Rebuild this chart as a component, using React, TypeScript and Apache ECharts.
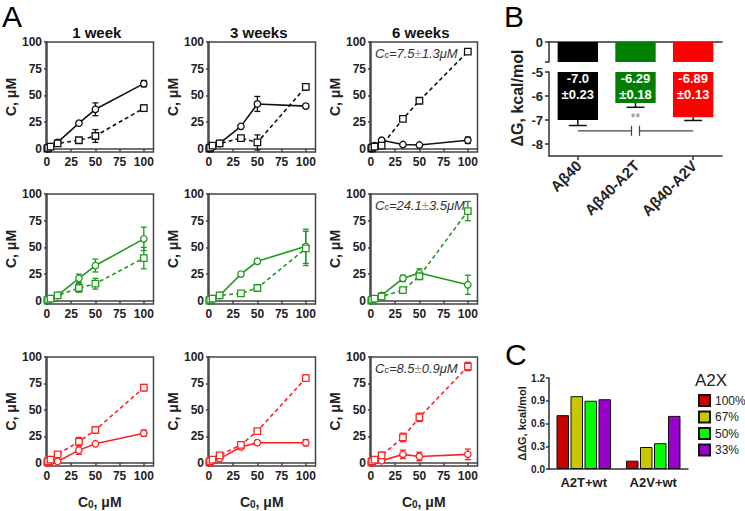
import React, { useEffect, useRef } from 'react';
import * as echarts from 'echarts';

const FONT = '"Liberation Sans", Arial, Helvetica, sans-serif';

// ---------- Panel A data ----------
const C0 = [0.4, 1.2, 3.7, 11, 33, 50, 100];
const weekTitles = ['1 week', '3 weeks', '6 weeks'];
const rowColors = ['#111111', '#1f9a1f', '#ff2222'];
const ticksA = [0, 25, 50, 75, 100];

// Aβ40 (black)
const black1wCircle = [0.3, 0.8, 2, 6, 24, 37, 61];
const black1wCircleErr = [0, 0, 0, 1, 1, 6, 3];
const black1wSquare = [0.3, 0.8, 2, 5, 8, 12, 38];
const black1wSquareErr = [0, 0, 0, 1, 1, 6, 3];
const black3wCircle = [0.3, 1, 2, 5, 21, 42, 40];
const black3wCircleErr = [0, 0, 0, 1, 1, 7, 2];
const black3wSquare = [0.3, 1, 3, 5, 10, 6, 58];
const black3wSquareErr = [0, 0, 0, 1, 1, 7, 3];
const black6wCircle = [0.3, 1, 3, 8, 4, 3.5, 8];
const black6wCircleErr = [0, 0, 0, 1, 1, 1, 3];
const black6wSquare = [0.3, 1, 2, 3, 28, 45, 91];
const black6wSquareErr = [0, 0, 0, 1, 1, 1, 2];

// Aβ40-A2T (green)
const green1wCircle = [0.3, 1, 2, 5, 21, 33, 58];
const green1wCircleErr = [0, 0, 0, 1, 4, 6, 11];
const green1wSquare = [0.3, 1, 2, 5, 12, 16, 40];
const green1wSquareErr = [0, 0, 0, 1, 4, 5, 10];
const green3wCircle = [0.3, 1, 2, 5, 25, 37, 51];
const green3wCircleErr = [0, 0, 0, 1, 2, 2, 16];
const green3wSquare = [0.3, 1, 2, 5, 7, 12, 49];
const green3wSquareErr = [0, 0, 0, 1, 1, 2, 16];
const green6wCircle = [0.3, 1, 2, 5, 21, 26, 15];
const green6wCircleErr = [0, 0, 0, 1, 3, 4, 9];
const green6wSquare = [0.3, 1, 2, 4, 10, 23, 84];
const green6wSquareErr = [0, 0, 0, 1, 2, 3, 9];

// Aβ40-A2V (red)
const red1wCircle = [0.2, 0.5, 0.8, 1.3, 12, 18, 28];
const red1wCircleErr = [0, 0, 0, 0, 4, 1, 3];
const red1wSquare = [0.5, 1.5, 3, 8, 20, 31, 71];
const red1wSquareErr = [0, 0, 0, 1, 4, 1, 3];
const red3wCircle = [0.3, 1, 2, 4, 15, 19, 19];
const red3wCircleErr = [0, 0, 0, 1, 2, 1, 3];
const red3wSquare = [0.5, 1.5, 3, 7, 17, 30, 80];
const red3wSquareErr = [0, 0, 0, 1, 3, 1, 3];
const red6wCircle = [0.3, 1, 2, 2, 8, 6, 8];
const red6wCircleErr = [0, 0, 0, 1, 4, 4, 5];
const red6wSquare = [0.5, 1.5, 3, 7, 24, 43, 91];
const red6wSquareErr = [0, 0, 0, 3, 4, 4, 4];

const ccMean = ['7.5', '24.1', '8.5'];
const ccErr = ['1.3', '3.5', '0.9'];

// ---------- Panel B data ----------
const bCategories = ['Aβ40', 'Aβ40-A2T', 'Aβ40-A2V'];
const dG = [-7.0, -6.29, -6.89];
const dGErr = [0.23, 0.18, 0.13];
const dGLabels = ['-7.0', '-6.29', '-6.89'];
const dGErrLabels = ['±0.23', '±0.18', '±0.13'];
const bColors = ['#000000', '#008000', '#ff0000'];
const sigLevel = -7.45;
const sigText = '**';

// ---------- Panel C data ----------
const cGroups = ['A2T+wt', 'A2V+wt'];
const cLegend = ['100%', '67%', '50%', '33%'];
const dd100 = [0.71, 0.11];
const dd67 = [0.96, 0.29];
const dd50 = [0.9, 0.34];
const dd33 = [0.92, 0.7];
const cColors = ['#c80000', '#c8c800', '#00ff00', '#9900cc'];

const panels = [
  { row: 0, col: 0, circ: black1wCircle, circErr: black1wCircleErr, sq: black1wSquare, sqErr: black1wSquareErr },
  { row: 0, col: 1, circ: black3wCircle, circErr: black3wCircleErr, sq: black3wSquare, sqErr: black3wSquareErr },
  { row: 0, col: 2, circ: black6wCircle, circErr: black6wCircleErr, sq: black6wSquare, sqErr: black6wSquareErr },
  { row: 1, col: 0, circ: green1wCircle, circErr: green1wCircleErr, sq: green1wSquare, sqErr: green1wSquareErr },
  { row: 1, col: 1, circ: green3wCircle, circErr: green3wCircleErr, sq: green3wSquare, sqErr: green3wSquareErr },
  { row: 1, col: 2, circ: green6wCircle, circErr: green6wCircleErr, sq: green6wSquare, sqErr: green6wSquareErr },
  { row: 2, col: 0, circ: red1wCircle, circErr: red1wCircleErr, sq: red1wSquare, sqErr: red1wSquareErr },
  { row: 2, col: 1, circ: red3wCircle, circErr: red3wCircleErr, sq: red3wSquare, sqErr: red3wSquareErr },
  { row: 2, col: 2, circ: red6wCircle, circErr: red6wCircleErr, sq: red6wSquare, sqErr: red6wSquareErr },
];

const colLeft = [46, 208, 370];
const rowTop = [42, 194, 357];
const rowH = [110, 110, 109];
const plotW = 107.5;

const makeErr = (color: string, cap: number) => (_p: any, api: any) => {
  const x = api.value(0);
  const y = api.value(1);
  const e = api.value(2);
  if (!e) return { type: 'group', children: [] };
  const a = api.coord([x, y + e]);
  const b = api.coord([x, y - e]);
  const st = { stroke: color, lineWidth: 1.3 };
  return {
    type: 'group',
    children: [
      { type: 'line', shape: { x1: a[0], y1: a[1], x2: b[0], y2: b[1] }, style: st },
      { type: 'line', shape: { x1: a[0] - cap, y1: a[1], x2: a[0] + cap, y2: a[1] }, style: st },
      { type: 'line', shape: { x1: b[0] - cap, y1: b[1], x2: b[0] + cap, y2: b[1] }, style: st },
    ],
  };
};

function buildOption(): any {
  const grid: any[] = [];
  const xAxis: any[] = [];
  const yAxis: any[] = [];
  const series: any[] = [];
  const graphic: any[] = [];
  const axisColor = '#444';
  const labelStyle = { fontSize: 12, fontWeight: 'bold', color: '#222', fontFamily: FONT };

  panels.forEach((p, idx) => {
    const color = rowColors[p.row];
    grid.push({
      left: colLeft[p.col], top: rowTop[p.row], width: plotW, height: rowH[p.row],
      show: true, borderColor: axisColor, borderWidth: 1.5, backgroundColor: 'transparent',
    });
    xAxis.push({
      type: 'value', gridIndex: idx, min: -1, max: 110,
      axisLine: { show: true, lineStyle: { color: axisColor, width: 1.5 } },
      splitLine: { show: false },
      axisTick: { show: true, length: 3, customValues: ticksA, lineStyle: { color: axisColor, width: 1.5 } },
      axisLabel: { ...labelStyle, margin: 4, customValues: ticksA },
    });
    yAxis.push({
      type: 'value', gridIndex: idx, min: -3, max: 100,
      axisLine: { show: true, lineStyle: { color: axisColor, width: 1.5 } },
      splitLine: { show: false },
      axisTick: { show: true, length: 3, customValues: ticksA, lineStyle: { color: axisColor, width: 1.5 } },
      axisLabel: { ...labelStyle, margin: 4, customValues: ticksA },
      name: 'C, μM', nameLocation: 'middle', nameGap: 25,
      nameTextStyle: { fontSize: 14, fontWeight: 'bold', color: '#222', fontFamily: FONT },
    });
    series.push({
      type: 'line', xAxisIndex: idx, yAxisIndex: idx, color,
      data: C0.map((x, k) => [x, p.circ[k]]),
      symbol: 'circle', symbolSize: 6.5, showSymbol: true, silent: true,
      lineStyle: { color, width: 1.6, type: 'solid' },
      itemStyle: { color: '#fff', borderColor: color, borderWidth: 1.3 },
      z: 4,
    });
    series.push({
      type: 'line', xAxisIndex: idx, yAxisIndex: idx, color,
      data: C0.map((x, k) => [x, p.sq[k]]),
      symbol: 'rect', symbolSize: 6.5, showSymbol: true, silent: true,
      lineStyle: { color, width: 1.6, type: [4, 3] },
      itemStyle: { color: '#fff', borderColor: color, borderWidth: 1.3 },
      z: 4,
    });
    series.push({
      type: 'custom', xAxisIndex: idx, yAxisIndex: idx, silent: true,
      encode: { x: 0, y: 1 },
      data: C0.map((x, k) => [x, p.circ[k], p.circErr[k]]),
      renderItem: makeErr(color, 3), z: 3,
    });
    series.push({
      type: 'custom', xAxisIndex: idx, yAxisIndex: idx, silent: true,
      encode: { x: 0, y: 1 },
      data: C0.map((x, k) => [x, p.sq[k], p.sqErr[k]]),
      renderItem: makeErr(color, 3), z: 3,
    });
  });

  weekTitles.forEach((t, c) => {
    graphic.push({
      type: 'text', x: colLeft[c] + plotW / 2 - 3, y: 32,
      style: { text: t, align: 'center', verticalAlign: 'middle', fontSize: 15, fontWeight: 'bold', fill: '#111', fontFamily: FONT },
    });
    graphic.push({
      type: 'text', x: colLeft[c] + plotW / 2, y: 502,
      style: {
        text: '{b|C}{s|0}{b|, μM}', align: 'center', verticalAlign: 'middle', fontFamily: FONT,
        rich: {
          b: { fontSize: 14, fontWeight: 'bold', fill: '#222', fontFamily: FONT },
          s: { fontSize: 10, fontWeight: 'bold', fill: '#222', fontFamily: FONT, verticalAlign: 'bottom', lineHeight: 5 },
        },
      },
    });
  });
  [0, 1, 2].forEach((r) => {
    graphic.push({
      type: 'text', x: colLeft[2] + 5, y: rowTop[r] + 11,
      style: {
        text: `{i|C}{s|c}{i|=${ccMean[r]}}{g|±}{i|${ccErr[r]}μM}`, align: 'left', verticalAlign: 'middle', fontFamily: FONT,
        rich: {
          i: { fontSize: 13, fontStyle: 'italic', fill: '#333', fontFamily: FONT },
          s: { fontSize: 9, fontStyle: 'italic', fill: '#333', fontFamily: FONT, verticalAlign: 'bottom', lineHeight: 5 },
          g: { fontSize: 13, fontStyle: 'italic', fill: '#999', fontFamily: FONT },
        },
      },
    });
  });

  // ---------- Panel B ----------
  const gTop = grid.length;
  grid.push({ left: 549, top: 42, width: 173, height: 20 });
  xAxis.push({
    type: 'category', gridIndex: gTop, data: bCategories, position: 'top',
    axisLine: { show: true, lineStyle: { color: '#333', width: 1.5 } },
    axisTick: { show: false }, axisLabel: { show: false },
  });
  yAxis.push({
    type: 'value', gridIndex: gTop, min: -0.85, max: 0,
    axisLine: { show: true, lineStyle: { color: '#333', width: 1.5 } },
    splitLine: { show: false },
    axisTick: { show: true, length: 4, customValues: [0, -0.85], lineStyle: { color: '#333', width: 1.5 } },
    axisLabel: { fontSize: 13, fontWeight: 'bold', color: '#222', fontFamily: FONT, margin: 6, customValues: [0] },
  });
  const gBot = grid.length;
  grid.push({ left: 549, top: 72, width: 173, height: 84 });
  xAxis.push({
    type: 'category', gridIndex: gBot, data: bCategories, position: 'bottom',
    axisLine: { show: true, lineStyle: { color: '#333', width: 1.5 } },
    axisTick: { show: true, alignWithLabel: true, length: 4, lineStyle: { color: '#333', width: 1.5 } },
    axisLabel: { show: false },
  });
  yAxis.push({
    type: 'value', gridIndex: gBot, min: -8.5, max: -5,
    axisLine: { show: true, lineStyle: { color: '#333', width: 1.5 } },
    splitLine: { show: false },
    axisTick: { show: true, length: 4, customValues: [-5, -6, -7, -8], lineStyle: { color: '#333', width: 1.5 } },
    axisLabel: { fontSize: 13, fontWeight: 'bold', color: '#222', fontFamily: FONT, margin: 6, customValues: [-5, -6, -7, -8] },
  });
  const barRender = (_p: any, api: any) => {
    const i = api.value(0);
    const v = api.value(1);
    const p0 = api.coord([i, 0]);
    const p1 = api.coord([i, v]);
    const w = api.size([1, 0])[0] * 0.7;
    return { type: 'rect', shape: { x: p0[0] - w / 2, y: p0[1], width: w, height: p1[1] - p0[1] }, style: { fill: bColors[i] } };
  };
  const bData = dG.map((v, i) => [i, v, dGErr[i]]);
  [gTop, gBot].forEach((g) => {
    series.push({ type: 'custom', xAxisIndex: g, yAxisIndex: g, clip: true, silent: true, encode: { x: 0, y: 1 }, data: bData, renderItem: barRender, z: 2 });
  });
  series.push({
    type: 'custom', xAxisIndex: gBot, yAxisIndex: gBot, silent: true, encode: { x: 0, y: 1 }, data: bData, z: 3,
    renderItem: (_p: any, api: any) => {
      const i = api.value(0);
      const v = api.value(1);
      const e = api.value(2);
      const a = api.coord([i, v]);
      const b = api.coord([i, v - e]);
      const top = api.coord([i, -5]);
      const base = api.coord([i, -8.5]);
      const st = { stroke: '#111', lineWidth: 1.5 };
      return {
        type: 'group',
        children: [
          { type: 'line', shape: { x1: a[0], y1: a[1], x2: b[0], y2: b[1] }, style: st },
          { type: 'line', shape: { x1: b[0] - 9, y1: b[1], x2: b[0] + 9, y2: b[1] }, style: st },
          {
            type: 'text', x: top[0], y: top[1] - 2,
            style: { text: dGLabels[i] + '\n' + dGErrLabels[i], align: 'center', verticalAlign: 'top', lineHeight: 16, fontSize: 13, fontWeight: 'bold', fill: '#fff', fontFamily: FONT },
          },
          {
            type: 'text', x: base[0] + 1, y: base[1] + 7, rotation: Math.PI / 4,
            style: { text: bCategories[i], align: 'right', verticalAlign: 'middle', fontSize: 15, fontWeight: 'bold', fill: '#222', fontFamily: FONT },
          },
        ],
      };
    },
  });
  series.push({
    type: 'custom', xAxisIndex: gBot, yAxisIndex: gBot, silent: true, encode: { x: 0, y: 2 },
    data: [[0, 2, sigLevel]], z: 3,
    renderItem: (_p: any, api: any) => {
      const y = api.value(2);
      const a = api.coord([api.value(0), y]);
      const b = api.coord([api.value(1), y]);
      const mid = (a[0] + b[0]) / 2;
      const txt = api.coord([1, y + 0.55]);
      const st = { stroke: '#444', lineWidth: 1.2 };
      return {
        type: 'group',
        children: [
          { type: 'line', shape: { x1: a[0], y1: a[1], x2: mid - 4, y2: a[1] }, style: st },
          { type: 'line', shape: { x1: mid + 4, y1: a[1], x2: b[0], y2: a[1] }, style: st },
          { type: 'line', shape: { x1: mid - 4, y1: a[1] - 5, x2: mid - 4, y2: a[1] + 5 }, style: st },
          { type: 'line', shape: { x1: mid + 4, y1: a[1] - 5, x2: mid + 4, y2: a[1] + 5 }, style: st },
          { type: 'text', x: txt[0], y: txt[1], style: { text: sigText, align: 'center', verticalAlign: 'middle', fontSize: 12, fill: '#777', fontFamily: FONT } },
        ],
      };
    },
  });
  graphic.push({
    type: 'text', x: 517, y: 98, rotation: Math.PI / 2,
    style: { text: 'ΔG, kcal/mol', align: 'center', verticalAlign: 'middle', fontSize: 16, fontWeight: 'bold', fill: '#222', fontFamily: FONT },
  });

  // ---------- Panel C ----------
  const gC = grid.length;
  grid.push({ left: 549, top: 378, width: 139, height: 91 });
  xAxis.push({
    type: 'category', gridIndex: gC, data: cGroups,
    axisLine: { show: true, lineStyle: { color: '#333', width: 1.5 } },
    axisTick: { show: false },
    axisLabel: { fontSize: 13, fontWeight: 'bold', color: '#222', fontFamily: FONT, margin: 7 },
  });
  yAxis.push({
    type: 'value', gridIndex: gC, min: 0, max: 1.2, interval: 0.3,
    axisLine: { show: true, lineStyle: { color: '#333', width: 1.5 } },
    splitLine: { show: false },
    axisTick: { show: true, length: 3, lineStyle: { color: '#333', width: 1.5 } },
    axisLabel: { fontSize: 10, fontWeight: 'bold', color: '#222', fontFamily: FONT, margin: 4, formatter: (v: number) => v.toFixed(1) },
    name: 'ΔΔG, kcal/mol', nameLocation: 'middle', nameGap: 21,
    nameTextStyle: { fontSize: 11, fontWeight: 'bold', color: '#222', fontFamily: FONT },
  });
  [dd100, dd67, dd50, dd33].forEach((vals, k) => {
    series.push({
      type: 'bar', name: cLegend[k], xAxisIndex: gC, yAxisIndex: gC, data: vals, silent: true,
      barWidth: 12.5, barGap: '12%',
      itemStyle: { color: cColors[k], borderColor: '#111', borderWidth: 1 },
    });
  });
  graphic.push({
    type: 'text', x: 695, y: 380,
    style: { text: 'A2X', align: 'left', verticalAlign: 'middle', fontSize: 17, fill: '#222', fontFamily: FONT },
  });

  graphic.push({ type: 'text', x: 2, y: 16, style: { text: 'A', verticalAlign: 'middle', fontSize: 30, fill: '#000', fontFamily: FONT } });
  graphic.push({ type: 'text', x: 504, y: 16, style: { text: 'B', verticalAlign: 'middle', fontSize: 30, fill: '#000', fontFamily: FONT } });
  graphic.push({ type: 'text', x: 505, y: 354, style: { text: 'C', verticalAlign: 'middle', fontSize: 30, fill: '#000', fontFamily: FONT } });

  return {
    animation: false,
    backgroundColor: '#ffffff',
    textStyle: { fontFamily: FONT },
    grid, xAxis, yAxis, series, graphic,
    legend: {
      data: cLegend, orient: 'vertical', left: 693, top: 389,
      itemWidth: 11, itemHeight: 11, itemGap: 3.5, icon: 'rect',
      textStyle: { fontSize: 12, color: '#222', fontFamily: FONT },
      selectedMode: false,
    },
  };
}

export default function App() {
  const ref = useRef<HTMLDivElement>(null);
  useEffect(() => {
    if (!ref.current) return;
    const chart = echarts.init(ref.current, undefined, { renderer: 'svg' });
    chart.setOption(buildOption());
    return () => chart.dispose();
  }, []);
  return <div ref={ref} style={{ position: 'fixed', left: 0, top: 0, width: 745, height: 511, background: '#fff' }} />;
}
